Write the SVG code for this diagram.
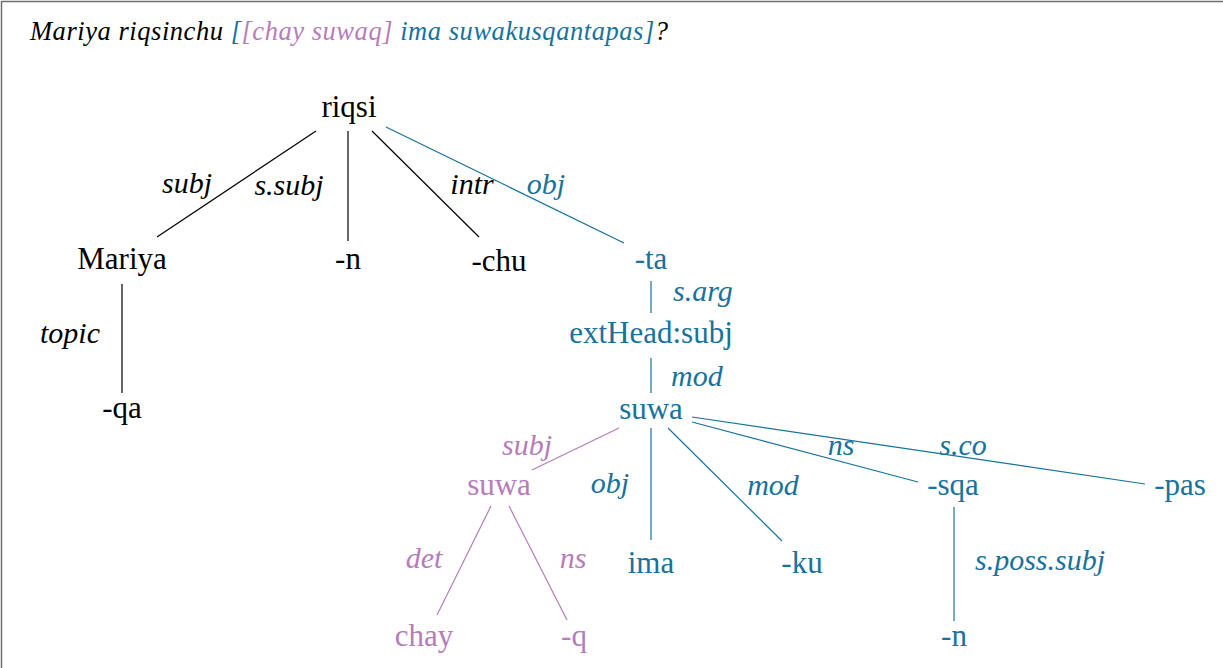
<svg xmlns="http://www.w3.org/2000/svg" width="1223" height="668" viewBox="0 0 1223 668">
<style>
.n{font-family:"Liberation Serif","Times New Roman",serif;font-size:31px;text-anchor:middle}
.l{font-family:"Liberation Serif","Times New Roman",serif;font-size:30px;font-style:italic}
.k{fill:#000}
.b{fill:#17729d}
.p{fill:#b67cbc}
.e{stroke-width:1.2;fill:none}
.ek{stroke:#000}
.eb{stroke:#17729d}
.ep{stroke:#b67cbc}
</style>
<rect x="0" y="0" width="1223" height="668" fill="#fff"/>
<path d="M1.5 668V1.5H1223" stroke="#6e6e6e" stroke-width="1.5" fill="none"/>
<text x="30" y="40" font-family="'Liberation Serif',serif" font-size="26.5" font-style="italic" textLength="638" lengthAdjust="spacing"><tspan fill="#000">Mariya riqsinchu </tspan><tspan fill="#17729d">[</tspan><tspan fill="#b67cbc">[chay suwaq]</tspan><tspan fill="#17729d"> ima suwakusqantapas]</tspan><tspan fill="#000">?</tspan></text>
<g id="connectors">
<line class="e ek" x1="316" y1="131" x2="157" y2="237"/>
<line class="e ek" x1="348" y1="131" x2="348" y2="241"/>
<line class="e ek" x1="372" y1="131" x2="479" y2="237"/>
<line class="e eb" x1="386" y1="127" x2="624" y2="243"/>
<line class="e ek" x1="122" y1="284" x2="122" y2="393"/>
<line class="e eb" x1="651" y1="281" x2="651" y2="313"/>
<line class="e eb" x1="651" y1="358" x2="651" y2="393"/>
<line class="e ep" x1="619" y1="428" x2="532" y2="470"/>
<line class="e eb" x1="651" y1="428" x2="651" y2="540"/>
<line class="e eb" x1="668" y1="428" x2="782" y2="541"/>
<line class="e eb" x1="692" y1="422" x2="918" y2="482"/>
<line class="e eb" x1="692" y1="417" x2="1145" y2="484"/>
<line class="e ep" x1="491" y1="506" x2="437" y2="615"/>
<line class="e ep" x1="509" y1="506" x2="567" y2="620"/>
<line class="e eb" x1="954" y1="507" x2="954" y2="621"/>
<text class="l k" x="187" y="193" text-anchor="middle">subj</text>
<text class="l k" x="289" y="195" text-anchor="middle">s.subj</text>
<text class="l k" x="472" y="194" text-anchor="middle">intr</text>
<text class="l b" x="546" y="194" text-anchor="middle">obj</text>
<text class="l k" x="70" y="343" text-anchor="middle">topic</text>
<text class="l b" x="673" y="301">s.arg</text>
<text class="l b" x="671" y="386">mod</text>
<text class="l p" x="527" y="455" text-anchor="middle">subj</text>
<text class="l b" x="610" y="493" text-anchor="middle">obj</text>
<text class="l b" x="773" y="495" text-anchor="middle">mod</text>
<text class="l b" x="841" y="455" text-anchor="middle">ns</text>
<text class="l b" x="963" y="455" text-anchor="middle">s.co</text>
<text class="l p" x="424" y="568" text-anchor="middle">det</text>
<text class="l p" x="573" y="568" text-anchor="middle">ns</text>
<text class="l b" x="975" y="570">s.poss.subj</text>
</g>
<g id="riqsi"><text class="n k" x="349" y="117">riqsi</text></g>
<g id="mariya"><text class="n k" x="122" y="269">Mariya</text></g>
<g id="n1"><text class="n k" x="348" y="269">-n</text></g>
<g id="chu"><text class="n k" x="499" y="271">-chu</text></g>
<g id="ta"><text class="n b" x="651" y="269">-ta</text></g>
<g id="qa"><text class="n k" x="122" y="418">-qa</text></g>
<g id="exthead"><text class="n b" x="651" y="343">extHead:subj</text></g>
<g id="suwa1"><text class="n b" x="651" y="419">suwa</text></g>
<g id="suwa2"><text class="n p" x="499" y="495">suwa</text></g>
<g id="ima"><text class="n b" x="651" y="573">ima</text></g>
<g id="ku"><text class="n b" x="802" y="573">-ku</text></g>
<g id="sqa"><text class="n b" x="953" y="495">-sqa</text></g>
<g id="pas"><text class="n b" x="1180" y="495">-pas</text></g>
<g id="chay"><text class="n p" x="424" y="646">chay</text></g>
<g id="q"><text class="n p" x="574" y="646">-q</text></g>
<g id="n2"><text class="n b" x="954" y="646">-n</text></g>
</svg>
